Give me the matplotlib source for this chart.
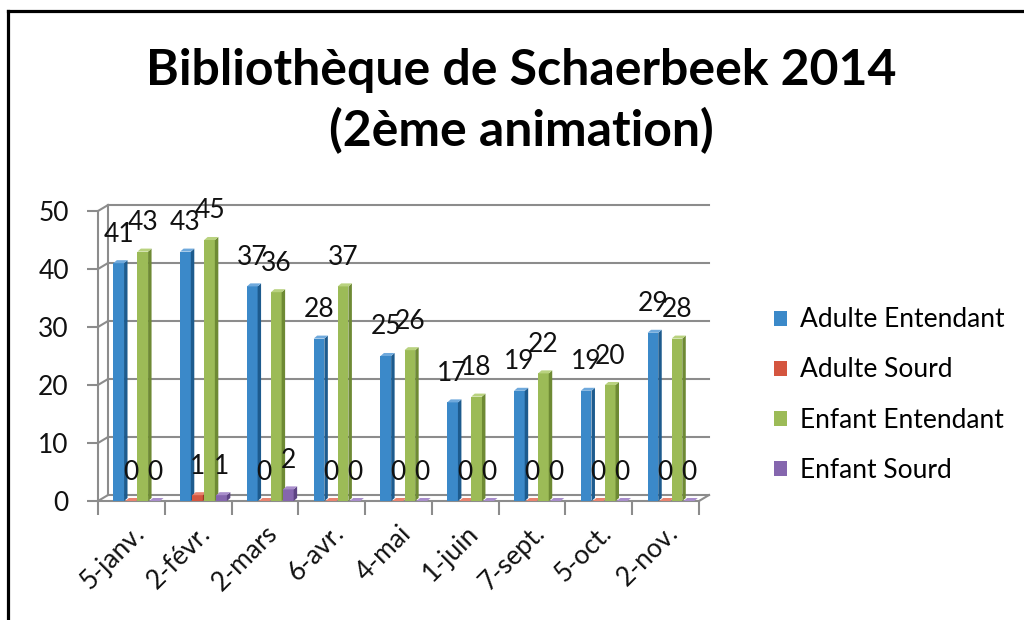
import numpy as np
import matplotlib.pyplot as plt
from matplotlib.patches import Polygon, Rectangle
from matplotlib.lines import Line2D

plt.rcParams['font.family'] = ['Lato', 'DejaVu Sans']

# data
dates = ["5-janv.", "2-févr.", "2-mars", "6-avr.", "4-mai", "1-juin",
         "7-sept.", "5-oct.", "2-nov."]
series = ["Adulte Entendant", "Adulte Sourd", "Enfant Entendant", "Enfant Sourd"]
adulte_entendant = [41, 43, 37, 28, 25, 17, 19, 19, 29]
adulte_sourd = [0, 1, 0, 0, 0, 0, 0, 0, 0]
enfant_entendant = [43, 45, 36, 37, 26, 18, 22, 20, 28]
enfant_sourd = [0, 1, 2, 0, 0, 0, 0, 0, 0]
values = [adulte_entendant, adulte_sourd, enfant_entendant, enfant_sourd]

front = ["#3B89C9", "#D4553F", "#9CBB57", "#8566AE"]
side = ["#1D5B8E", "#9C3526", "#6E8A34", "#5D4483"]
top = ["#6FA9DC", "#E8836F", "#B9D27F", "#A88DCB"]
grey = "#8C8C8C"
fs = 19

fig = plt.figure(figsize=(10.24, 6.2), dpi=100)
ax = fig.add_axes([98/1024, 119/620, 601/1024, 290/620])
ax.set_xlim(-0.5, 8.5)
ax.set_ylim(0, 50)

# fake 3d walls
dxw, dyw = 0.15, 1.03
for v in range(0, 51, 10):
    ax.plot([-0.5 + dxw, 8.5 + dxw], [v + dyw, v + dyw], color=grey, lw=1.5,
            clip_on=False, zorder=0)
    ax.plot([-0.5, -0.5 + dxw], [v, v + dyw], color=grey, lw=1.5, clip_on=False, zorder=0)
ax.plot([-0.5 + dxw] * 2, [dyw, 50 + dyw], color=grey, lw=1.5, clip_on=False, zorder=0)
ax.plot([8.5, 8.5 + dxw], [0, dyw], color=grey, lw=1.5, clip_on=False, zorder=0)

# bars
w = 0.16
dx, dy = 0.052, 0.52
offsets = [-0.19, -0.01, 0.17, 0.35]
x = np.arange(len(dates))
for k in range(4):
    xs = x + offsets[k]
    ax.bar(xs, values[k], width=w, color=front[k], zorder=3 + k, label=series[k])
    for xc, v in zip(xs, values[k]):
        x0, x1 = xc - w / 2, xc + w / 2
        ax.add_patch(Polygon([(x1, 0), (x1 + dx, dy), (x1 + dx, v + dy), (x1, v)],
                             closed=True, fc=side[k], ec="none", zorder=3 + k))
        ax.add_patch(Polygon([(x0, v), (x1, v), (x1 + dx, v + dy), (x0 + dx, v + dy)],
                             closed=True, fc=top[k], ec="none", zorder=3 + k))
        ax.text(xc, v + 5, str(v), ha="center", va="center",
                fontsize=fs, color="#111111", zorder=10, clip_on=False)

for s in ["top", "right"]:
    ax.spines[s].set_visible(False)
for s in ["left", "bottom"]:
    ax.spines[s].set_color(grey)
    ax.spines[s].set_linewidth(1.5)

ax.set_yticks(range(0, 51, 10))
ax.tick_params(axis="y", length=8, width=1.5, color=grey, pad=13, labelsize=fs,
               labelcolor="#111111")
ax.set_xticks(x)
ax.set_xticklabels(dates, rotation=45, ha="right", rotation_mode="anchor",
                   fontsize=fs, color="#111111")
ax.tick_params(axis="x", which="major", length=0, pad=14)
ax.set_xticks(np.arange(-0.5, 9, 1), minor=True)
ax.tick_params(axis="x", which="minor", length=10, width=1.5, color=grey)

handles = [Rectangle((0, 0), 1, 1, fc=c, ec="none") for c in front]
fig.legend(handles, series, loc="center left", bbox_to_anchor=(750/1024, 1 - 395/620),
           frameon=False, fontsize=fs, handlelength=0.5, handleheight=0.5,
           handletextpad=0.5, labelspacing=0.95)

fig.text(521/1024, 1 - 101/620, "Bibliothèque de Schaerbeek 2014\n(2ème animation)",
         ha="center", va="center", fontsize=36, fontweight="bold", linespacing=1.38)

# frame around the picture
fig.add_artist(Line2D([8/1024, 1], [1 - 11/620] * 2, color="black", lw=2.3))
fig.add_artist(Line2D([8/1024] * 2, [0, 1 - 11/620], color="black", lw=2.3))

fig.savefig("out.png", dpi=100)
